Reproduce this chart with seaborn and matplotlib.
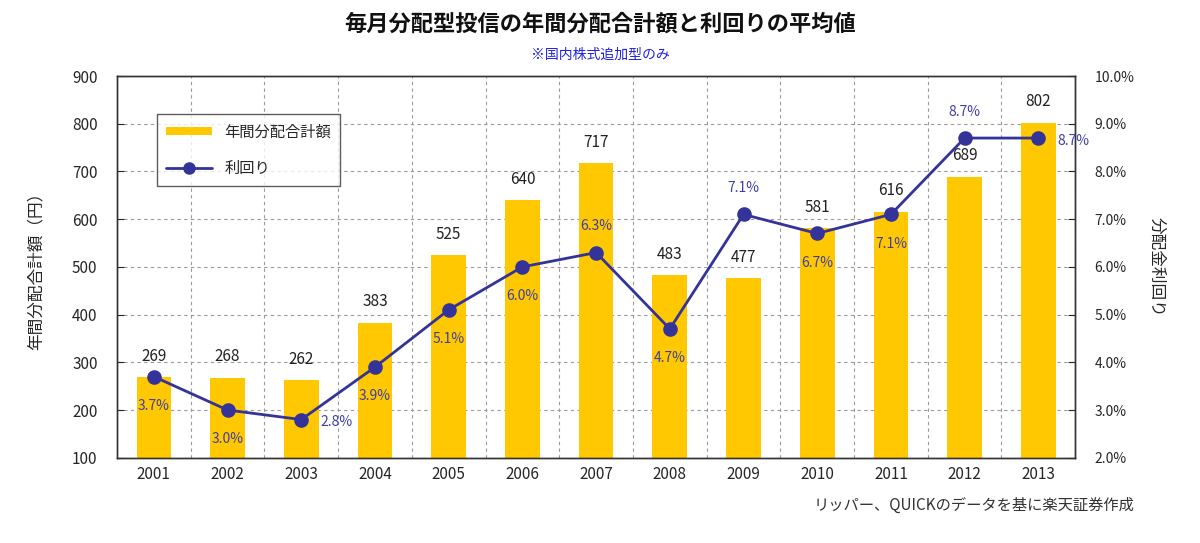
import matplotlib
matplotlib.use("Agg")
import matplotlib.pyplot as plt
import numpy as np
import seaborn as sns
from matplotlib.ticker import FuncFormatter, MultipleLocator
from matplotlib.lines import Line2D
from matplotlib.patches import Patch

years = ['2001', '2002', '2003', '2004', '2005', '2006', '2007',
         '2008', '2009', '2010', '2011', '2012', '2013']
amounts = [269, 268, 262, 383, 525, 640, 717, 483, 477, 581, 616, 689, 802]
yields = [3.7, 3.0, 2.8, 3.9, 5.1, 6.0, 6.3, 4.7, 7.1, 6.7, 7.1, 8.7, 8.7]

# where each yield label sits relative to its point
label_pos = ['below', 'below', 'right', 'below', 'below', 'below', 'above',
             'below', 'above', 'below', 'below', 'above', 'right']

sns.set_style('white')
plt.rcParams['font.family'] = ['Noto Sans CJK JP', 'DejaVu Sans']

bar_color = '#FFC800'
line_color = '#33339A'
grid_color = '#999999'

fig = plt.figure(figsize=(12, 5.43), dpi=100)
ax = fig.add_axes([0.0975, 0.157, 0.7985, 0.703])

sns.barplot(x=years, y=amounts, ax=ax, color=bar_color, width=0.47,
            saturation=1, edgecolor='none')
ax.set_ylim(100, 900)
ax.set_xlim(-0.5, len(years) - 0.5)
ax.yaxis.set_major_locator(MultipleLocator(100))
ax.set_xticks(np.arange(len(years)) + 0.5, minor=True)
ax.grid(True, axis='y', which='major', linestyle=(0, (3, 3)), color=grid_color, linewidth=0.8)
ax.grid(True, axis='x', which='minor', linestyle=(0, (3, 3)), color=grid_color, linewidth=0.8)
ax.set_axisbelow(True)
ax.tick_params(axis='y', direction='in', length=5, labelsize=11, pad=14)
ax.tick_params(axis='x', which='major', length=0, labelsize=11, pad=6)
ax.tick_params(axis='x', which='minor', direction='in', length=5)
ax.set_ylabel('年間分配合計額（円）', fontsize=12, labelpad=20)
ax.set_xlabel('')
for s in ax.spines.values():
    s.set_color('#333333')
    s.set_linewidth(1.0)

for i, v in enumerate(amounts):
    ax.annotate(str(v), (i, v), xytext=(0, 15), textcoords='offset points',
                ha='center', va='center', fontsize=11, color='#222222')

ax2 = ax.twinx()
sns.pointplot(x=years, y=yields, ax=ax2, color=line_color, markers='o',
              markersize=9, linewidth=2)
ax2.set_xlim(-0.5, len(years) - 0.5)
ax2.set_ylim(2, 10)
ax2.yaxis.set_major_locator(MultipleLocator(1))
ax2.yaxis.set_major_formatter(FuncFormatter(lambda v, p: f'{v:.1f}%'))
ax2.tick_params(axis='y', direction='in', length=5, labelsize=10, pad=14)
ax2.set_ylabel('分配金利回り', fontsize=12, rotation=270, labelpad=22)
ax2.grid(False)
for s in ax2.spines.values():
    s.set_color('#333333')
    s.set_linewidth(1.0)

offsets = {'below': (0, -16, 'center', 'top'),
           'above': (0, 14, 'center', 'bottom'),
           'right': (14, -2, 'left', 'center')}
for i, (v, pos) in enumerate(zip(yields, label_pos)):
    dx, dy, ha, va = offsets[pos]
    ax2.annotate(f'{v:.1f}%', (i, v), xytext=(dx, dy), textcoords='offset points',
                 ha=ha, va=va, fontsize=10, color='#3F3FA8')

handles = [Patch(facecolor=bar_color, edgecolor='none'),
           Line2D([0], [0], color=line_color, marker='o', markersize=8, linewidth=2)]
leg = ax2.legend(handles, ['年間分配合計額', '利回り'], loc='upper left',
                 bbox_to_anchor=(0.042, 0.9), fontsize=11, frameon=True,
                 fancybox=False, edgecolor='#333333', borderpad=0.6,
                 borderaxespad=0, labelspacing=1.3, handlelength=3.0,
                 handleheight=0.5)
leg.get_frame().set_linewidth(1.0)

fig.text(0.5, 0.955, '毎月分配型投信の年間分配合計額と利回りの平均値', ha='center', va='center',
         fontsize=16, fontweight='bold', color='#111111')
fig.text(0.5, 0.9, '※国内株式追加型のみ', ha='center', va='center',
         fontsize=10, color='#2020E0')
fig.text(0.945, 0.07, 'リッパー、QUICKのデータを基に楽天証券作成', ha='right', va='center',
         fontsize=11, color='#333333')

fig.savefig('out.png', dpi=100, facecolor='white')
